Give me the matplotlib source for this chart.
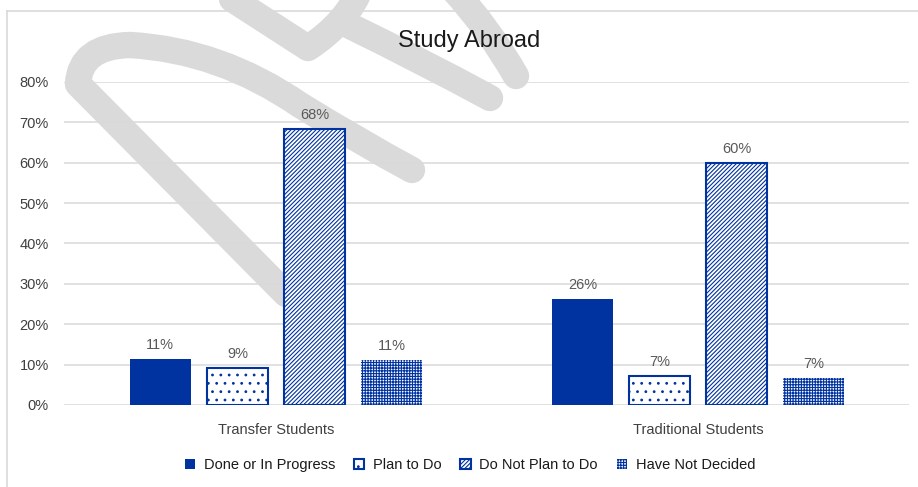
import matplotlib
matplotlib.use('Agg')
import matplotlib.pyplot as plt
from matplotlib.path import Path
from matplotlib.patches import PathPatch, Patch
from matplotlib.transforms import Affine2D
from matplotlib.lines import Line2D

# ---- data ----
groups = ["Transfer Students", "Traditional Students"]
series = ["Done or In Progress", "Plan to Do", "Do Not Plan to Do", "Have Not Decided"]
done = [11.4, 26.3]
plan = [9.1, 7.2]
not_plan = [68.4, 60.0]
undecided = [11.2, 6.8]
yticks = [0, 10, 20, 30, 40, 50, 60, 70, 80]
title = "Study Abroad"

W, H = 918, 487
BLUE = '#0033a0'
GRID = '#d9d9d9'

plt.rcParams['font.family'] = ['Liberation Sans', 'DejaVu Sans']
plt.rcParams['hatch.linewidth'] = 0.8

fig = plt.figure(figsize=(W / 100, H / 100), dpi=100)
fig.patch.set_facecolor('white')
# pixel coordinates with origin at the top-left corner
px = Affine2D().scale(1 / W, -1 / H).translate(0, 1) + fig.transFigure

# ---- "DRAFT" watermark strokes (decoration, image pixel coords) ----
M, L, C = Path.MOVETO, Path.LINETO, Path.CURVE3
wm_paths = [
    Path([(286, 294), (78, 84), (80, 46), (130, 45), (220, 50), (300, 105),
          (360, 142), (412, 170)],
         [M, L, C, C, C, C, C, C]),
    Path([(215, -12), (308, 48), (348, 22), (362, -15)], [M, L, C, C]),
    Path([(350, 26), (420, 60), (490, 98)], [M, C, C]),
    Path([(452, -12), (490, 30), (516, 76)], [M, C, C]),
]
for p in wm_paths:
    fig.add_artist(PathPatch(p, transform=px, facecolor='none', edgecolor='#dadada',
                             lw=19, joinstyle='round', capstyle='round', zorder=-1))

# border lines
fig.add_artist(Line2D([7, W], [11, 11], transform=px, color=GRID, lw=1.2, zorder=-2))
fig.add_artist(Line2D([7, 7], [11, H], transform=px, color=GRID, lw=1.2, zorder=-2))

# ---- axes ----
ax = fig.add_axes([64 / W, 1 - 405 / H, (909 - 64) / W, (405 - 82) / H])
ax.set_facecolor('none')
for s in ax.spines.values():
    s.set_visible(False)

step = 77 / 422
width = 61 / 422
x = list(range(len(groups)))
styles = [
    dict(facecolor=BLUE, edgecolor=BLUE, lw=0),
    dict(facecolor='white', edgecolor=BLUE, hatch='..', lw=1.5),
    dict(facecolor='white', edgecolor=BLUE, hatch='////////', lw=1.5),
    dict(facecolor='white', edgecolor=BLUE, hatch='++++++', lw=0),
]
handles = []
for i, (vals, st) in enumerate(zip([done, plan, not_plan, undecided], styles)):
    pos = [g + (i - 1.5) * step for g in x]
    bars = ax.bar(pos, vals, width=width, zorder=3, **st)
    ax.bar_label(bars, labels=[f"{v:.0f}%" for v in vals], padding=5,
                 fontsize=10.5, color='#595959')
    handles.append(Patch(label=series[i], **st))

ax.set_xlim(-0.502, 1.5)
ax.set_ylim(0, 80)
ax.set_yticks(yticks)
ax.set_yticklabels([f"{t}%" for t in yticks])
ax.set_xticks(x)
ax.set_xticklabels(groups)
ax.yaxis.grid(True, color=GRID, lw=1.1, zorder=0)
ax.set_axisbelow(True)
ax.tick_params(axis='y', length=0, pad=11, labelsize=10.5, labelcolor='#404040')
ax.tick_params(axis='x', length=0, pad=13, labelsize=10.5, labelcolor='#404040')

fig.text(469 / W, 1 - 41 / H, title, ha='center', va='center', fontsize=17,
         color='#1a1a1a')

fig.legend(handles=handles, loc='center', bbox_to_anchor=(470 / W, 1 - 465 / H),
           ncol=4, frameon=False, fontsize=10.5, handlelength=0.7, handleheight=0.7,
           handletextpad=0.6, columnspacing=1.3, labelcolor='#1a1a1a')

fig.savefig('out.png', dpi=100, facecolor='white')
